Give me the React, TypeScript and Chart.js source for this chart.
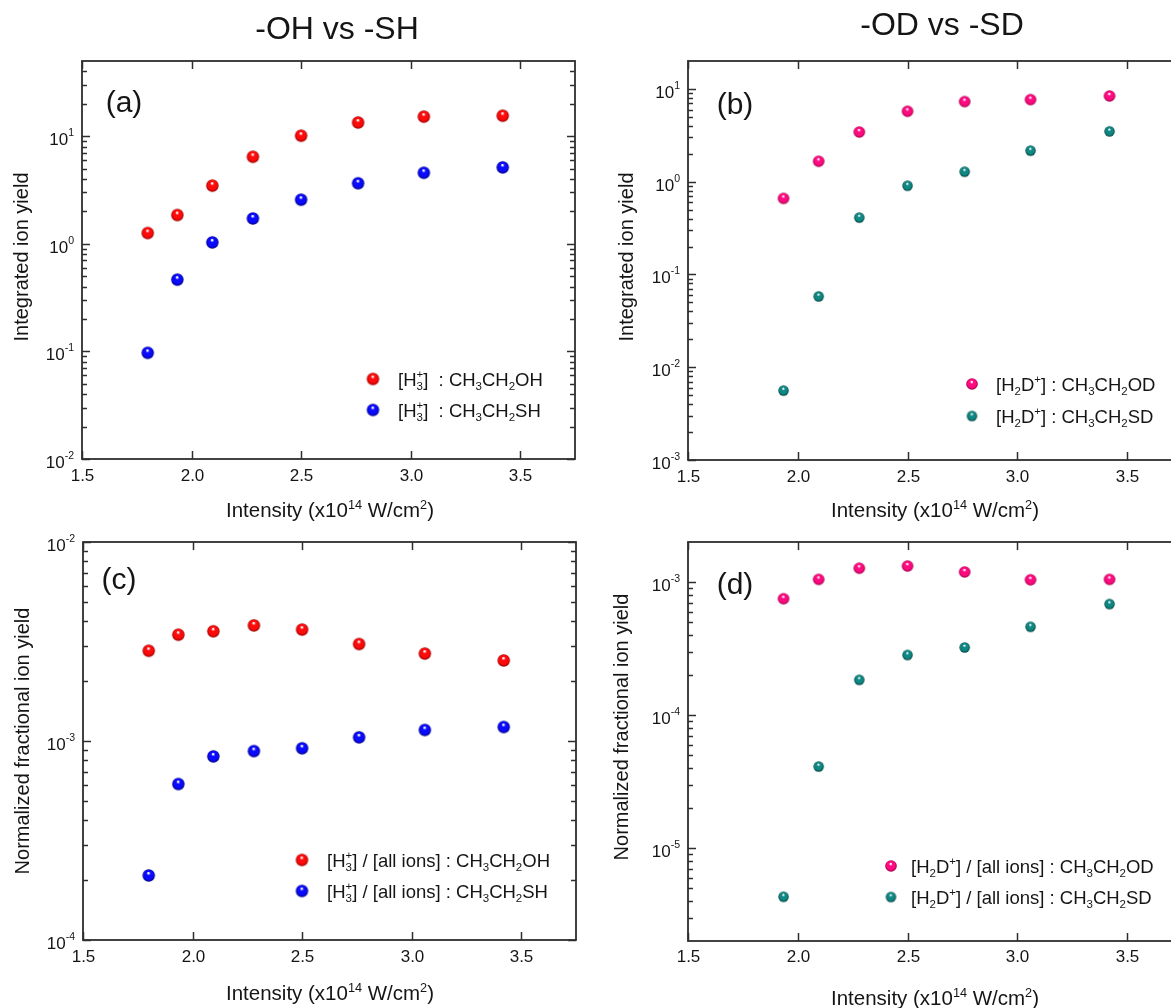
import React, { useEffect, useRef } from 'react';
import { Chart, registerables } from 'chart.js';

Chart.register(...registerables);

// ---------------- data ----------------
const intensityH = [1.8, 1.935, 2.095, 2.28, 2.5, 2.76, 3.06, 3.42];
const intensityD = [1.935, 2.095, 2.28, 2.5, 2.76, 3.06, 3.42];

const yieldEtOH = [1.26, 1.85, 3.47, 6.44, 10.1, 13.4, 15.2, 15.5];
const yieldEtSH = [0.097, 0.464, 1.03, 1.72, 2.57, 3.65, 4.57, 5.13];
const yieldEtOD = [0.66, 1.66, 3.43, 5.74, 7.3, 7.67, 8.4];
const yieldEtSD = [0.0056, 0.058, 0.41, 0.905, 1.28, 2.16, 3.49];

const fracEtOH = [2.84e-3, 3.42e-3, 3.56e-3, 3.81e-3, 3.63e-3, 3.07e-3, 2.75e-3, 2.54e-3];
const fracEtSH = [2.11e-4, 6.08e-4, 8.37e-4, 8.9e-4, 9.19e-4, 1.043e-3, 1.136e-3, 1.175e-3];
const fracEtOD = [7.49e-4, 1.047e-3, 1.27e-3, 1.32e-3, 1.19e-3, 1.04e-3, 1.047e-3];
const fracEtSD = [4.3e-6, 4.1e-5, 1.84e-4, 2.83e-4, 3.22e-4, 4.61e-4, 6.83e-4];

const xTickValues = [1.5, 2.0, 2.5, 3.0, 3.5];
const xTickLabels = ['1.5', '2.0', '2.5', '3.0', '3.5'];
const yExponentsA = [-2, -1, 0, 1];
const yExponentsB = [-3, -2, -1, 0, 1];
const yExponentsC = [-4, -3, -2];
const yExponentsD = [-5, -4, -3];

const xTitle = 'Intensity (x10^{14} W/cm^{2})';
const yTitleTop = 'Integrated ion yield';
const yTitleBottom = 'Normalized fractional ion yield';
const titleLeft = '-OH vs -SH';
const titleRight = '-OD vs -SD';

const legendA = ['[H^{+}_{3}]  : CH_{3}CH_{2}OH', '[H^{+}_{3}]  : CH_{3}CH_{2}SH'];
const legendB = ['[H_{2}D^{+}] : CH_{3}CH_{2}OD', '[H_{2}D^{+}] : CH_{3}CH_{2}SD'];
const legendC = ['[H^{+}_{3}] / [all ions] : CH_{3}CH_{2}OH', '[H^{+}_{3}] / [all ions] : CH_{3}CH_{2}SH'];
const legendD = ['[H_{2}D^{+}] / [all ions] : CH_{3}CH_{2}OD', '[H_{2}D^{+}] / [all ions] : CH_{3}CH_{2}SD'];

// ---------------- styling ----------------
const FONT = '"Liberation Sans", Arial, Helvetica, sans-serif';
const TEXT = '#151515';
const AXIS = '#2e2e2e';
const W = 1200;
const H = 1008;
const SCR = 0.62;

const RED = { color: '#ff0a0a', dark: '#9a0000' };
const BLUE = { color: '#0a0aff', dark: '#000085' };
const PINK = { color: '#ff0a80', dark: '#9c0048' };
const TEAL = { color: '#0f8884', dark: '#004542' };

type Seg = { t?: string; sub?: string; sup?: string };

function parseRich(s: string): Seg[] {
  const out: Seg[] = [];
  let buf = '';
  let i = 0;
  while (i < s.length) {
    const c = s[i];
    if ((c === '_' || c === '^') && s[i + 1] === '{') {
      if (buf) {
        out.push({ t: buf });
        buf = '';
      }
      const seg: Seg = {};
      while (i < s.length && (s[i] === '_' || s[i] === '^') && s[i + 1] === '{') {
        const end = s.indexOf('}', i + 2);
        const content = s.slice(i + 2, end);
        if (s[i] === '_') {
          if (seg.sub !== undefined) break;
          seg.sub = content;
        } else {
          if (seg.sup !== undefined) break;
          seg.sup = content;
        }
        i = end + 1;
      }
      out.push(seg);
    } else {
      buf += c;
      i++;
    }
  }
  if (buf) out.push({ t: buf });
  return out;
}

function richWidth(ctx: CanvasRenderingContext2D, segs: Seg[], size: number) {
  let w = 0;
  for (const s of segs) {
    if (s.t !== undefined) {
      ctx.font = `${size}px ${FONT}`;
      w += ctx.measureText(s.t).width;
    } else {
      ctx.font = `${size * SCR}px ${FONT}`;
      w += Math.max(s.sub ? ctx.measureText(s.sub).width : 0, s.sup ? ctx.measureText(s.sup).width : 0);
    }
  }
  return w;
}

function drawRich(
  ctx: CanvasRenderingContext2D,
  str: string,
  x: number,
  yMid: number,
  size: number,
  align: 'left' | 'center' | 'right',
  supRaise = 0.42
) {
  const segs = parseRich(str);
  const w = richWidth(ctx, segs, size);
  let cx = align === 'left' ? x : align === 'center' ? x - w / 2 : x - w;
  const base = yMid + size * 0.36;
  ctx.textAlign = 'left';
  ctx.textBaseline = 'alphabetic';
  ctx.fillStyle = TEXT;
  for (const s of segs) {
    if (s.t !== undefined) {
      ctx.font = `${size}px ${FONT}`;
      ctx.fillText(s.t, cx, base);
      cx += ctx.measureText(s.t).width;
    } else {
      ctx.font = `${size * SCR}px ${FONT}`;
      let ww = 0;
      if (s.sub) {
        ctx.fillText(s.sub, cx, base + size * 0.22);
        ww = Math.max(ww, ctx.measureText(s.sub).width);
      }
      if (s.sup) {
        ctx.fillText(s.sup, cx, base - size * supRaise);
        ww = Math.max(ww, ctx.measureText(s.sup).width);
      }
      cx += ww;
    }
  }
}

function makeBall(color: string, dark: string, r: number): HTMLCanvasElement {
  const size = Math.ceil(r * 2) + 2;
  const c = document.createElement('canvas');
  c.width = size;
  c.height = size;
  const g = c.getContext('2d')!;
  const cx = size / 2;
  const cy = size / 2;
  const grad = g.createRadialGradient(cx - 0.05 * r, cy - 0.45 * r, 0, cx, cy, r);
  grad.addColorStop(0, '#ffffff');
  grad.addColorStop(0.1, '#ffffff');
  grad.addColorStop(0.32, color);
  grad.addColorStop(0.72, color);
  grad.addColorStop(1, dark);
  g.fillStyle = grad;
  g.beginPath();
  g.arc(cx, cy, r, 0, Math.PI * 2);
  g.fill();
  return c;
}

type Series = { x: number[]; y: number[]; style: { color: string; dark: string }; r: number; label: string };
type PanelCfg = {
  area: { l: number; t: number; r: number; b: number };
  yMin: number;
  yMax: number;
  yExps: number[];
  yTitle: string;
  yTitlePos: [number, number];
  xTitlePos: [number, number];
  xTickY: number;
  letter: string;
  letterPos: [number, number];
  title?: string;
  titlePos?: [number, number];
  series: Series[];
  legend: { mx: number; my: number[]; tx: number };
};

const panels: PanelCfg[] = [
  {
    area: { l: 82, t: 61, r: 575, b: 459 },
    yMin: 0.01,
    yMax: 50,
    yExps: yExponentsA,
    yTitle: yTitleTop,
    yTitlePos: [21, 257],
    xTitlePos: [330, 510],
    xTickY: 476,
    letter: '(a)',
    letterPos: [124, 101],
    title: titleLeft,
    titlePos: [337, 27],
    series: [
      { x: intensityH, y: yieldEtOH, style: RED, r: 6.2, label: legendA[0] },
      { x: intensityH, y: yieldEtSH, style: BLUE, r: 6.2, label: legendA[1] },
    ],
    legend: { mx: 373, my: [379, 410], tx: 398 },
  },
  {
    area: { l: 688, t: 61, r: 1182, b: 460 },
    yMin: 0.001,
    yMax: 20,
    yExps: yExponentsB,
    yTitle: yTitleTop,
    yTitlePos: [626, 257],
    xTitlePos: [935, 510],
    xTickY: 477,
    letter: '(b)',
    letterPos: [735, 103],
    title: titleRight,
    titlePos: [942, 23],
    series: [
      { x: intensityD, y: yieldEtOD, style: PINK, r: 5.8, label: legendB[0] },
      { x: intensityD, y: yieldEtSD, style: TEAL, r: 5.2, label: legendB[1] },
    ],
    legend: { mx: 972, my: [384, 416], tx: 996 },
  },
  {
    area: { l: 83, t: 542, r: 576, b: 940 },
    yMin: 1e-4,
    yMax: 1e-2,
    yExps: yExponentsC,
    yTitle: yTitleBottom,
    yTitlePos: [22, 741],
    xTitlePos: [330, 993],
    xTickY: 957,
    letter: '(c)',
    letterPos: [119, 578],
    series: [
      { x: intensityH, y: fracEtOH, style: RED, r: 6.2, label: legendC[0] },
      { x: intensityH, y: fracEtSH, style: BLUE, r: 6.2, label: legendC[1] },
    ],
    legend: { mx: 302, my: [860, 891], tx: 327 },
  },
  {
    area: { l: 688, t: 542, r: 1182, b: 941 },
    yMin: 2e-6,
    yMax: 2e-3,
    yExps: yExponentsD,
    yTitle: yTitleBottom,
    yTitlePos: [621, 727],
    xTitlePos: [935, 998],
    xTickY: 957,
    letter: '(d)',
    letterPos: [735, 583],
    series: [
      { x: intensityD, y: fracEtOD, style: PINK, r: 5.8, label: legendD[0] },
      { x: intensityD, y: fracEtSD, style: TEAL, r: 5.2, label: legendD[1] },
    ],
    legend: { mx: 891, my: [866, 897], tx: 911 },
  },
];

function decoPlugin(p: PanelCfg, balls: HTMLCanvasElement[]) {
  return {
    id: 'deco',
    afterDraw(chart: any) {
      const ctx: CanvasRenderingContext2D = chart.ctx;
      const ca = chart.chartArea;
      const xs = chart.scales.x;
      const ys = chart.scales.y;
      ctx.save();
      ctx.strokeStyle = AXIS;
      ctx.lineWidth = 1.8;
      ctx.strokeRect(ca.left, ca.top, ca.right - ca.left, ca.bottom - ca.top);

      const line = (x1: number, y1: number, x2: number, y2: number) => {
        ctx.beginPath();
        ctx.moveTo(x1, y1);
        ctx.lineTo(x2, y2);
        ctx.stroke();
      };

      // x ticks (major only, inward top & bottom)
      ctx.lineWidth = 1.5;
      xTickValues.forEach((v, i) => {
        const px = Math.round(xs.getPixelForValue(v)) + 0.5;
        line(px, ca.bottom, px, ca.bottom - 8);
        line(px, ca.top, px, ca.top + 8);
        ctx.fillStyle = TEXT;
        ctx.font = `17px ${FONT}`;
        ctx.textAlign = 'center';
        ctx.textBaseline = 'middle';
        ctx.fillText(xTickLabels[i], px, p.xTickY);
      });

      // y major ticks and labels
      p.yExps.forEach((e) => {
        const py = Math.round(ys.getPixelForValue(Math.pow(10, e))) + 0.5;
        line(ca.left, py, ca.left + 8, py);
        line(ca.right, py, ca.right - 8, py);
        drawRich(ctx, `10^{${e}}`, ca.left - 8, py + 2, 17, 'right', 0.52);
      });
      // y minor ticks
      const e0 = Math.floor(Math.log10(p.yMin));
      const e1 = Math.ceil(Math.log10(p.yMax));
      for (let e = e0; e <= e1; e++) {
        for (let k = 2; k <= 9; k++) {
          const v = k * Math.pow(10, e);
          if (v <= p.yMin * 1.0001 || v >= p.yMax * 0.9999) continue;
          const py = Math.round(ys.getPixelForValue(v)) + 0.5;
          line(ca.left, py, ca.left + 5, py);
          line(ca.right, py, ca.right - 5, py);
        }
      }

      // axis titles
      drawRich(ctx, xTitle, p.xTitlePos[0], p.xTitlePos[1], 20.5, 'center');
      ctx.save();
      ctx.translate(p.yTitlePos[0], p.yTitlePos[1]);
      ctx.rotate(-Math.PI / 2);
      drawRich(ctx, p.yTitle, 0, 0, 20, 'center');
      ctx.restore();

      // panel letter
      drawRich(ctx, p.letter, p.letterPos[0], p.letterPos[1], 30, 'center');

      // big title
      if (p.title && p.titlePos) drawRich(ctx, p.title, p.titlePos[0], p.titlePos[1], 32, 'center');

      // legend
      p.series.forEach((s, i) => {
        const b = balls[i];
        ctx.drawImage(b, p.legend.mx - b.width / 2, p.legend.my[i] - b.height / 2);
        drawRich(ctx, s.label, p.legend.tx, p.legend.my[i], 18.5, 'left');
      });
      ctx.restore();
    },
  };
}

function PanelChart({ cfg }: { cfg: PanelCfg }) {
  const ref = useRef<HTMLCanvasElement>(null);
  useEffect(() => {
    const canvas = ref.current!;
    const balls = cfg.series.map((s) => makeBall(s.style.color, s.style.dark, s.r));
    const a = cfg.area;
    const chart = new Chart(canvas, {
      type: 'scatter',
      data: {
        datasets: cfg.series.map((s, i) => ({
          label: s.label,
          data: s.x.map((x, j) => ({ x, y: s.y[j] })),
          pointStyle: balls[i] as any,
          pointRadius: s.r,
          backgroundColor: s.style.color,
          borderColor: s.style.color,
          showLine: false,
        })),
      },
      options: {
        responsive: false,
        animation: false,
        devicePixelRatio: 1,
        events: [],
        layout: { padding: { left: a.l, top: a.t, right: W - a.r, bottom: H - a.b } },
        plugins: { legend: { display: false }, tooltip: { enabled: false }, title: { display: false } },
        scales: {
          x: { type: 'linear', min: 1.5, max: 3.75, display: false },
          y: { type: 'logarithmic', min: cfg.yMin, max: cfg.yMax, display: false },
        },
      } as any,
      plugins: [decoPlugin(cfg, balls)],
    });
    return () => chart.destroy();
  }, [cfg]);
  return (
    <canvas
      ref={ref}
      width={W}
      height={H}
      style={{ position: 'absolute', left: 0, top: 0, width: W, height: H }}
    />
  );
}

export default function App() {
  return (
    <div
      style={{
        position: 'fixed',
        left: 0,
        top: 0,
        width: 1171,
        height: 1008,
        overflow: 'hidden',
        background: '#ffffff',
      }}
    >
      {panels.map((p, i) => (
        <PanelChart key={i} cfg={p} />
      ))}
    </div>
  );
}
